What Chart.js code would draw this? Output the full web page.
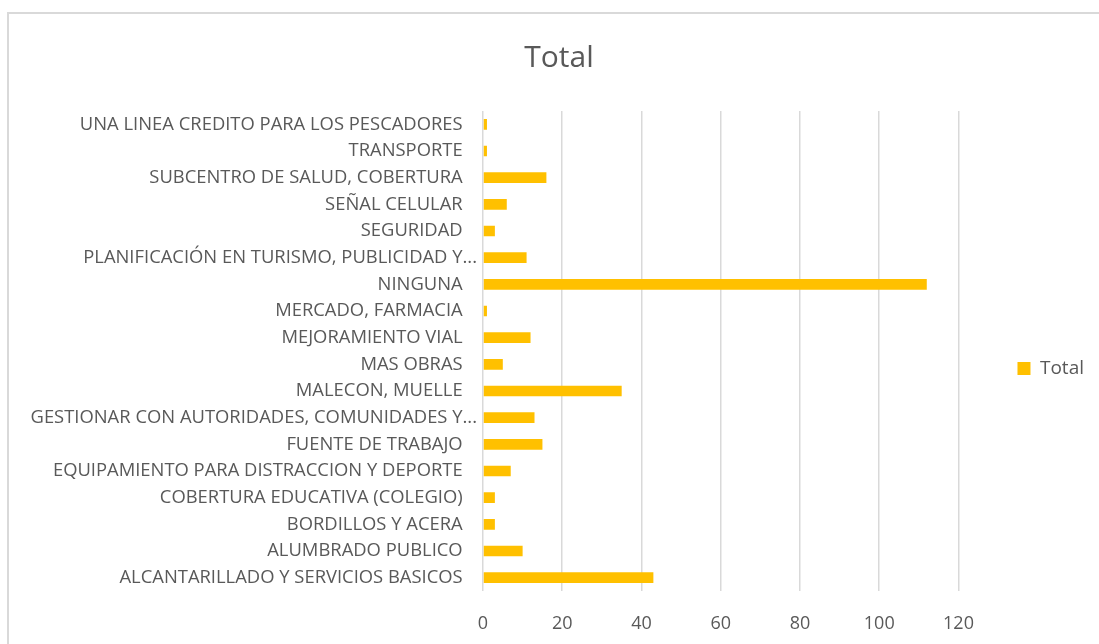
<!DOCTYPE html>
<html>
<head>
<meta charset="utf-8">
<script src="https://cdn.jsdelivr.net/npm/chart.js@4.4.1/dist/chart.umd.min.js"></script>
<style>
  html, body { margin: 0; padding: 0; background: #ffffff; overflow: hidden; }
  #wrap { position: relative; width: 1099px; height: 644px; }
  #frame { position: absolute; left: 7px; top: 12px; width: 1200px; height: 700px;
           border: 2px solid #d9d9d9; box-sizing: border-box; }
  canvas { position: absolute; left: 0; top: 0; }
</style>
</head>
<body>
<div id="wrap">
  <div id="frame"></div>
  <canvas id="chart" width="1099" height="644"></canvas>
</div>
<script>
// Categories, listed from the bottom bar upwards
const categories = [
  "ALCANTARILLADO Y SERVICIOS BASICOS",
  "ALUMBRADO PUBLICO",
  "BORDILLOS Y ACERA",
  "COBERTURA EDUCATIVA (COLEGIO)",
  "EQUIPAMIENTO PARA DISTRACCION Y DEPORTE",
  "FUENTE DE TRABAJO",
  "GESTIONAR CON AUTORIDADES, COMUNIDADES Y...",
  "MALECON, MUELLE",
  "MAS OBRAS",
  "MEJORAMIENTO VIAL",
  "MERCADO, FARMACIA",
  "NINGUNA",
  "PLANIFICACIÓN EN TURISMO, PUBLICIDAD Y...",
  "SEGURIDAD",
  "SEÑAL CELULAR",
  "SUBCENTRO DE SALUD, COBERTURA",
  "TRANSPORTE",
  "UNA LINEA CREDITO PARA LOS PESCADORES"
];

const totals = [43, 10, 3, 3, 7, 15, 13, 35, 5, 12, 1, 112, 11, 3, 6, 16, 1, 1];

const seriesName = "Total";
const chartTitle = "Total";
const xTicks = [0, 20, 40, 60, 80, 100, 120];

const textColor = "#595959";
const gridColor = "#d9d9d9";
const barColor = "#FFC000";
const fontFamily = "'Open Sans', 'Noto Sans', sans-serif";

// Shortened labels let their trailing dots hang past the common right edge;
// full labels get three blank spaces of roughly the same width instead.
const hangingLabel = (label) => label.endsWith("...") ? label : label + "\u00A0\u00A0\u00A0";

new Chart(document.getElementById("chart"), {
  type: "bar",
  data: {
    labels: categories,
    datasets: [{
      label: seriesName,
      data: totals,
      backgroundColor: barColor,
      borderWidth: 0,
      barPercentage: 0.4,
      categoryPercentage: 1.0
    }]
  },
  options: {
    indexAxis: "y",
    responsive: false,
    devicePixelRatio: 1,
    animation: false,
    layout: { padding: { left: 24, right: 5, top: 0, bottom: 9 } },
    plugins: {
      title: {
        display: true,
        text: chartTitle,
        color: textColor,
        font: { family: fontFamily, size: 30, weight: "normal" },
        padding: { top: 40, bottom: 35 }
      },
      legend: {
        display: true,
        position: "right",
        // blank legend title used as a spacer to lower the legend entry
        title: {
          display: true,
          text: " ",
          font: { family: fontFamily, size: 1 },
          padding: { top: 0, bottom: 101 }
        },
        labels: {
          color: textColor,
          font: { family: fontFamily, size: 19 },
          boxWidth: 13,
          boxHeight: 13,
          padding: 59
        }
      },
      tooltip: { enabled: false }
    },
    scales: {
      x: {
        min: 0,
        max: 120,
        afterBuildTicks: (scale) => { scale.ticks = xTicks.map(v => ({ value: v })); },
        afterFit: (scale) => { scale.height = 44; },
        grid: { color: gridColor, lineWidth: 1.5, drawTicks: false },
        border: { display: false },
        ticks: {
          color: textColor,
          font: { family: fontFamily, size: 18 },
          padding: 22
        }
      },
      y: {
        reverse: true,
        afterFit: (scale) => { scale.width = 459; },
        grid: { display: false, drawTicks: false },
        border: { display: false },
        ticks: {
          color: textColor,
          font: { family: fontFamily, size: 18.4 },
          padding: 6,
          autoSkip: false,
          callback: function (value) { return hangingLabel(this.getLabelForValue(value)); }
        }
      }
    }
  }
});
</script>
</body>
</html>
